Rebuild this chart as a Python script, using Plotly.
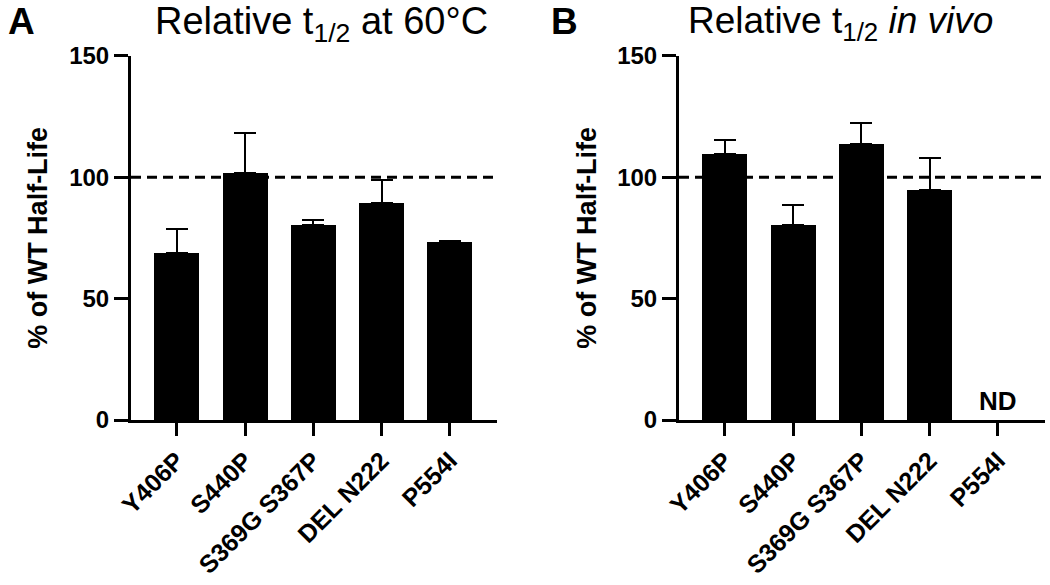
import plotly.graph_objects as go

categories = ["Y406P", "S440P", "S369G S367P", "DEL N222", "P554I"]

# Panel A: relative half-life at 60 C (% of WT)
a_mean = [68.6, 101.6, 80.1, 89.5, 73.3]
a_err = [10.0, 16.4, 2.1, 9.3, 0.5]

# Panel B: relative half-life in vivo (% of WT); P554I not determined
b_mean = [109.4, 80.3, 113.8, 94.8, None]
b_err = [5.9, 8.2, 8.3, 12.9, None]

y_ticks = [0, 50, 100, 150]
reference_level = 100

FONT = "Liberation Sans, Arial, Helvetica, sans-serif"
W, H = 1050, 585

fig = go.Figure()

def err_dict(err):
    return dict(type="data", array=err, arrayminus=[0 if e is not None else None for e in err],
                symmetric=False, color="black", thickness=2, width=11, visible=True)

fig.add_trace(go.Bar(x=categories, y=a_mean, error_y=err_dict(a_err),
                     marker=dict(color="black", line=dict(width=0)), width=0.66,
                     xaxis="x", yaxis="y", showlegend=False, hoverinfo="skip"))
fig.add_trace(go.Bar(x=categories, y=b_mean, error_y=err_dict(b_err),
                     marker=dict(color="black", line=dict(width=0)), width=0.66,
                     xaxis="x2", yaxis="y2", showlegend=False, hoverinfo="skip"))

ybot = 1 - 420 / H
ytop = 1 - 55.7 / H
dom_a = [131 / W, 497 / W]
dom_b = [679 / W, 1045 / W]

xcommon = dict(type="category", categoryorder="array", categoryarray=categories,
               range=[-0.67, 4.69], showline=True, linecolor="black", linewidth=3,
               ticks="outside", ticklen=13, tickwidth=3, tickcolor="black",
               tickangle=-45, showgrid=False, zeroline=False, automargin=False,
               tickfont=dict(family=FONT, size=25, color="black", weight="bold"))
ycommon = dict(range=[0, 150], tickvals=y_ticks, showline=True, linecolor="black",
               linewidth=3, ticks="outside", ticklen=14, tickwidth=3, tickcolor="black",
               showgrid=False, zeroline=False, automargin=False,
               tickfont=dict(family=FONT, size=24, color="black", weight="bold"))

fig.update_layout(
    width=W, height=H, autosize=False,
    margin=dict(l=0, r=0, t=0, b=0, pad=0),
    paper_bgcolor="white", plot_bgcolor="white",
    bargap=0,
    xaxis=dict(domain=dom_a, anchor="y", **xcommon),
    yaxis=dict(domain=[ybot, ytop], anchor="x", **ycommon),
    xaxis2=dict(domain=dom_b, anchor="y2", **xcommon),
    yaxis2=dict(domain=[ybot, ytop], anchor="x2", **ycommon),
)

for xr, yr in [("x", "y"), ("x2", "y2")]:
    fig.add_shape(type="line", xref=f"{xr} domain", yref=yr, x0=0, x1=1,
                  y0=reference_level, y1=reference_level,
                  line=dict(color="black", width=3, dash="10px,6px"), layer="above")

ann = []
# panel letters
ann.append(dict(text="<b>A</b>", x=6 / W, y=1, yshift=1, xref="paper", yref="paper",
                xanchor="left", yanchor="top", showarrow=False,
                font=dict(family=FONT, size=37, color="black")))
ann.append(dict(text="<b>B</b>", x=549 / W, y=1, yshift=1, xref="paper", yref="paper",
                xanchor="left", yanchor="top", showarrow=False,
                font=dict(family=FONT, size=37, color="black")))
# titles
ann.append(dict(text="Relative t<sub>1/2</sub> at 60°C", x=321 / W, y=1, yshift=2,
                xref="paper", yref="paper", xanchor="center", yanchor="top",
                showarrow=False, font=dict(family=FONT, size=38, color="black")))
ann.append(dict(text="Relative t<sub>1/2</sub> <i>in vivo</i>", x=840 / W, y=1, yshift=2,
                xref="paper", yref="paper", xanchor="center", yanchor="top",
                showarrow=False, font=dict(family=FONT, size=37, color="black")))
# y titles
for xc in (38, 587):
    ann.append(dict(text="<b>% of WT Half-Life</b>", x=xc / W, y=(ybot + ytop) / 2,
                    xref="paper", yref="paper", xanchor="center", yanchor="middle",
                    textangle=-90, showarrow=False,
                    font=dict(family=FONT, size=27, color="black")))
# ND label
ann.append(dict(text="<b>ND</b>", x="P554I", y=0, xref="x2", yref="y2",
                xanchor="center", yanchor="bottom", yshift=2, showarrow=False,
                font=dict(family=FONT, size=26, color="black")))

fig.update_layout(annotations=ann)

fig.write_html("out.html", config={"displayModeBar": False, "staticPlot": True},
               post_script="document.body.style.margin='0';document.body.style.overflow='hidden';")
